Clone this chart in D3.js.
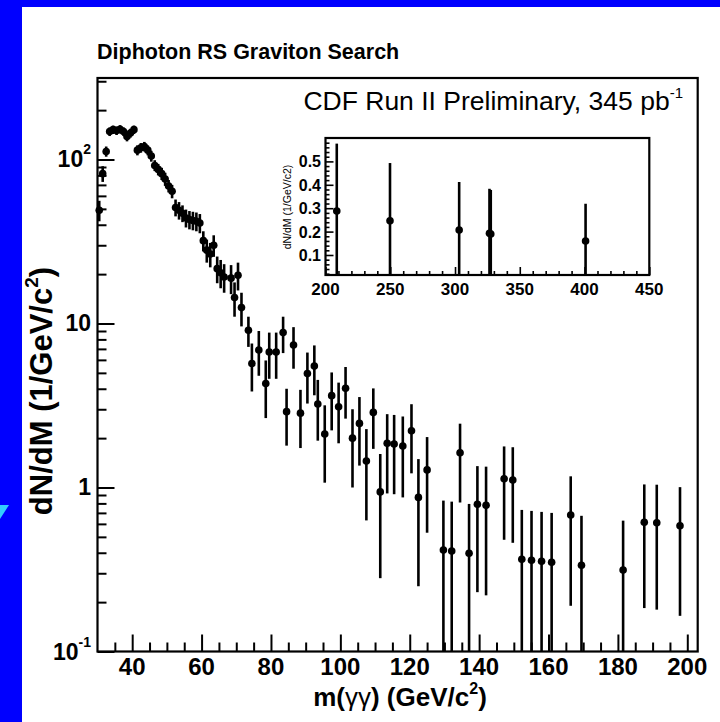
<!DOCTYPE html>
<html>
<head>
<meta charset="utf-8">
<script src="https://cdn.jsdelivr.net/npm/d3@7"></script>
<style>
  html, body { margin: 0; padding: 0; background: #0000ff; }
  svg { display: block; }
  text { font-family: "Liberation Sans", Arial, Helvetica, sans-serif; }
</style>
</head>
<body>
<svg id="chart" width="720" height="722"></svg>
<script>
// ---------------- DATA ----------------
const massBins = [30.5,31.5,32.5,33.5,34.5,35.5,36.5,37.5,38.5,39.5,40.5,41.5,42.5,43.5,44.5,45.5,46.5,47.5,48.5,49.5,
  50.5,51.5,52.5,53.5,54.5,55.5,56.5,57.5,58.5,59.5,60.5,61.5,62.5,63.5,64.5,65.5,66.5,68.5,69.5,70.5,
  71.5,73.5,74.5,76.5,78.5,79.5,81.5,83.5,84.5,86.5,88.5,90.5,92.5,93.5,95.5,97.5,99.5,101.5,103.5,105.5,
  107.5,109.5,111.5,113.5,115.5,118.0,120.5,122.5,125.0,129.7,132.1,134.5,137.1,139.5,142.0,147.2,149.7,
  152.3,155.1,158.0,160.9,166.4,169.5,181.5,187.6,191.2,197.9];
const dNdM = [49,82,112,148,152,150,153,148,138,145,152,114,118,120,114,105,92,87,82,76,
  69,64,51,49,47,44,43,42.5,42,41,32,28,26.5,30,21.6,20.4,19.2,18.9,14.4,19.7,
  12.5,9.1,5.7,6.9,4.3,6.7,6.7,8.8,2.9,7.4,2.84,4.95,5.5,3.23,2.12,3.63,3.11,4.03,2.0,2.46,
  1.45,2.87,0.94,1.86,1.84,1.79,2.22,0.87,1.28,0.416,0.41,1.63,0.397,0.79,0.78,1.13,1.11,
  0.365,0.36,0.355,0.35,0.68,0.336,0.314,0.614,0.61,0.585];
const dNdMErr = [7,9,8,9,9,9,9,9,9,9,9,8,8,8,8,8,7,7,7,7,
  6,6,6,6,5.5,5.5,5.5,5.5,5.5,5.5,4.5,4.5,4.5,4.5,4,4,3.8,3.8,3.4,3.8,
  2.9,1.9,1.85,2.1,1.65,2.1,2.1,2.2,1.1,2.1,1.1,1.7,1.85,1.3,1.05,1.4,1.25,1.4,1.0,1.1,
  0.82,1.15,0.66,0.94,0.93,0.92,1.0,0.62,0.75,0.416,0.41,0.82,0.397,0.56,0.56,0.65,0.65,
  0.365,0.36,0.355,0.35,0.49,0.336,0.314,0.43,0.43,0.42];

const xMajorTicks = [40,60,80,100,120,140,160,180,200];
const xTickLabels = ["40","60","80","100","120","140","160","180","200"];
const yMajorTicks = [0.1,1,10,100];
const yTickBase = ["10","1","10","10"];
const yTickExp = ["-1","","","2"];

const insetMass = [208.7,249.8,303.2,326.6,327.6,400.8];
const insetVal  = [0.288,0.246,0.207,0.193,0.19,0.160];
const insetErr  = [0.288,0.247,0.205,0.19,0.188,0.159];
const insetXTicks = [200,250,300,350,400,450];
const insetYTicks = [0.1,0.2,0.3,0.4,0.5];
const insetYLabels = ["0.1","0.2","0.3","0.4","0.5"];

const titleText = "Diphoton RS Graviton Search";
const cdfText = "CDF Run II Preliminary, 345 pb";

// ---------------- DRAW ----------------
const svg = d3.select("#chart");
svg.append("rect").attr("width",720).attr("height",722).attr("fill","#0000ff");
svg.append("rect").attr("x",22).attr("y",7).attr("width",698).attr("height",715).attr("fill","#ffffff");
svg.append("path").attr("d","M0,505 L9,505 L0,519 Z").attr("fill","#33ccff");

const L = 97.5, R = 697.7, T = 78, B = 651.5;
const x = d3.scaleLinear().domain([30,203]).range([L,R]);
const y = d3.scaleLog().domain([0.1,314]).range([B,T]);

const g = svg.append("g");

const xMinor = d3.range(35,203,5).filter(v => v % 20 !== 0);
g.append("g").attr("transform",`translate(0,${B})`)
  .call(d3.axisBottom(x).tickValues(xMinor).tickSize(-9).tickFormat(""))
  .call(a => a.select(".domain").remove())
  .selectAll("line").attr("stroke","#000").attr("stroke-width",2);
g.append("g").attr("transform",`translate(0,${B})`)
  .call(d3.axisBottom(x).tickValues(xMajorTicks).tickSize(-17).tickFormat(""))
  .call(a => a.select(".domain").remove())
  .selectAll("line").attr("stroke","#000").attr("stroke-width",2);

const yMinor = [];
[0.1,1,10,100].forEach(d => { for (let k=2;k<=9;k++){ const v=d*k; if (v<314) yMinor.push(v);} });
g.append("g").attr("transform",`translate(${L},0)`)
  .call(d3.axisLeft(y).tickValues(yMinor).tickSize(-9).tickFormat(""))
  .call(a => a.select(".domain").remove())
  .selectAll("line").attr("stroke","#000").attr("stroke-width",2);
g.append("g").attr("transform",`translate(${L},0)`)
  .call(d3.axisLeft(y).tickValues(yMajorTicks).tickSize(-17).tickFormat(""))
  .call(a => a.select(".domain").remove())
  .selectAll("line").attr("stroke","#000").attr("stroke-width",2);

g.append("rect").attr("x",L).attr("y",T).attr("width",R-L).attr("height",B-T)
  .attr("fill","none").attr("stroke","#000").attr("stroke-width",2.2);

g.selectAll(".xl").data(xMajorTicks).enter().append("text")
  .attr("x", d => x(d)).attr("y", 675).attr("text-anchor","middle")
  .attr("font-size",24).attr("font-weight","bold").text((d,i) => xTickLabels[i]);

yMajorTicks.forEach((d,i) => {
  const t = g.append("text").attr("x",91).attr("y", y(d)+8).attr("text-anchor","end")
    .attr("font-size",23).attr("font-weight","bold");
  t.append("tspan").text(yTickBase[i]);
  if (yTickExp[i]) t.append("tspan").attr("dy",-13).attr("font-size",14).text(yTickExp[i]);
});

const pts = massBins.map((m,i) => ({m, v:dNdM[i], e:dNdMErr[i]}));
g.selectAll(".eb").data(pts).enter().append("line")
  .attr("x1", d => x(d.m)).attr("x2", d => x(d.m))
  .attr("y1", d => y(Math.max(d.v - d.e, 0.1)))
  .attr("y2", d => y(d.v + d.e))
  .attr("stroke","#000").attr("stroke-width",2.6);
g.selectAll(".pt").data(pts).enter().append("circle")
  .attr("cx", d => x(d.m)).attr("cy", d => y(d.v)).attr("r",3.8).attr("fill","#000");

svg.append("text").attr("x",97).attr("y",59).attr("font-size",21.5).attr("font-weight","bold").text(titleText);
const ct = svg.append("text").attr("x",683).attr("y",110).attr("text-anchor","end").attr("font-size",26.5);
ct.append("tspan").text(cdfText);
ct.append("tspan").attr("dy",-12).attr("font-size",15).text("-1");

const xt = svg.append("text").attr("x",400).attr("y",706).attr("text-anchor","middle")
  .attr("font-size",26).attr("font-weight","bold");
xt.append("tspan").text("m(");
xt.append("tspan").attr("font-weight","normal").text("γγ");
xt.append("tspan").text(") (GeV/c");
xt.append("tspan").attr("dy",-12).attr("font-size",16).text("2");
xt.append("tspan").attr("dy",12).text(")");

const yt = svg.append("text").attr("transform","translate(52,391) rotate(-90)")
  .attr("text-anchor","middle").attr("font-size",31).attr("font-weight","bold");
yt.append("tspan").text("dN/dM (1/GeV/c");
yt.append("tspan").attr("dy",-14).attr("font-size",19).text("2");
yt.append("tspan").attr("dy",14).text(")");

// ---------------- INSET ----------------
const iL = 325.5, iR = 649.3, iT = 138, iB = 275;
const ix = d3.scaleLinear().domain([200,450]).range([iL,iR]);
const iy = d3.scaleLinear().domain([0.0145,0.6]).range([iB,iT]);
const ig = svg.append("g");
ig.append("rect").attr("x",iL).attr("y",iT).attr("width",iR-iL).attr("height",iB-iT)
  .attr("fill","#fff").attr("stroke","#000").attr("stroke-width",2.2);

const ixMinor = d3.range(210,450,10).filter(v => v % 50 !== 0);
ig.append("g").attr("transform",`translate(0,${iB})`)
  .call(d3.axisBottom(ix).tickValues(ixMinor).tickSize(-4).tickFormat(""))
  .call(a => a.select(".domain").remove())
  .selectAll("line").attr("stroke","#000").attr("stroke-width",1.6);
ig.append("g").attr("transform",`translate(0,${iB})`)
  .call(d3.axisBottom(ix).tickValues(insetXTicks).tickSize(-8).tickFormat(""))
  .call(a => a.select(".domain").remove())
  .selectAll("line").attr("stroke","#000").attr("stroke-width",1.6);
const iyMinor = d3.range(0.02,0.6,0.02).filter(v => Math.abs(v*10 - Math.round(v*10)) > 1e-6);
ig.append("g").attr("transform",`translate(${iL},0)`)
  .call(d3.axisLeft(iy).tickValues(iyMinor).tickSize(-4).tickFormat(""))
  .call(a => a.select(".domain").remove())
  .selectAll("line").attr("stroke","#000").attr("stroke-width",1.6);
ig.append("g").attr("transform",`translate(${iL},0)`)
  .call(d3.axisLeft(iy).tickValues(insetYTicks).tickSize(-8).tickFormat(""))
  .call(a => a.select(".domain").remove())
  .selectAll("line").attr("stroke","#000").attr("stroke-width",1.6);

ig.selectAll(".ixl").data(insetXTicks).enter().append("text")
  .attr("x", d => ix(d)).attr("y",295).attr("text-anchor","middle")
  .attr("font-size",17).attr("font-weight","bold").text(d => d);
ig.selectAll(".iyl").data(insetYTicks).enter().append("text")
  .attr("x",321).attr("y", d => iy(d)+6).attr("text-anchor","end")
  .attr("font-size",16).attr("font-weight","bold").text((d,i) => insetYLabels[i]);

const ipts = insetMass.map((m,i) => ({m, v:insetVal[i], e:insetErr[i]}));
ig.selectAll(".ieb").data(ipts).enter().append("line")
  .attr("x1", d => ix(d.m)).attr("x2", d => ix(d.m))
  .attr("y1", d => iy(Math.max(d.v - d.e, 0.0145)))
  .attr("y2", d => iy(d.v + d.e))
  .attr("stroke","#000").attr("stroke-width",2.6);
ig.selectAll(".ipt").data(ipts).enter().append("circle")
  .attr("cx", d => ix(d.m)).attr("cy", d => iy(d.v)).attr("r",3.8).attr("fill","#000");

svg.append("text").attr("transform","translate(291,207) rotate(-90)")
  .attr("text-anchor","middle").attr("font-size",10.5).text("dN/dM (1/GeV/c2)");
</script>
</body>
</html>
